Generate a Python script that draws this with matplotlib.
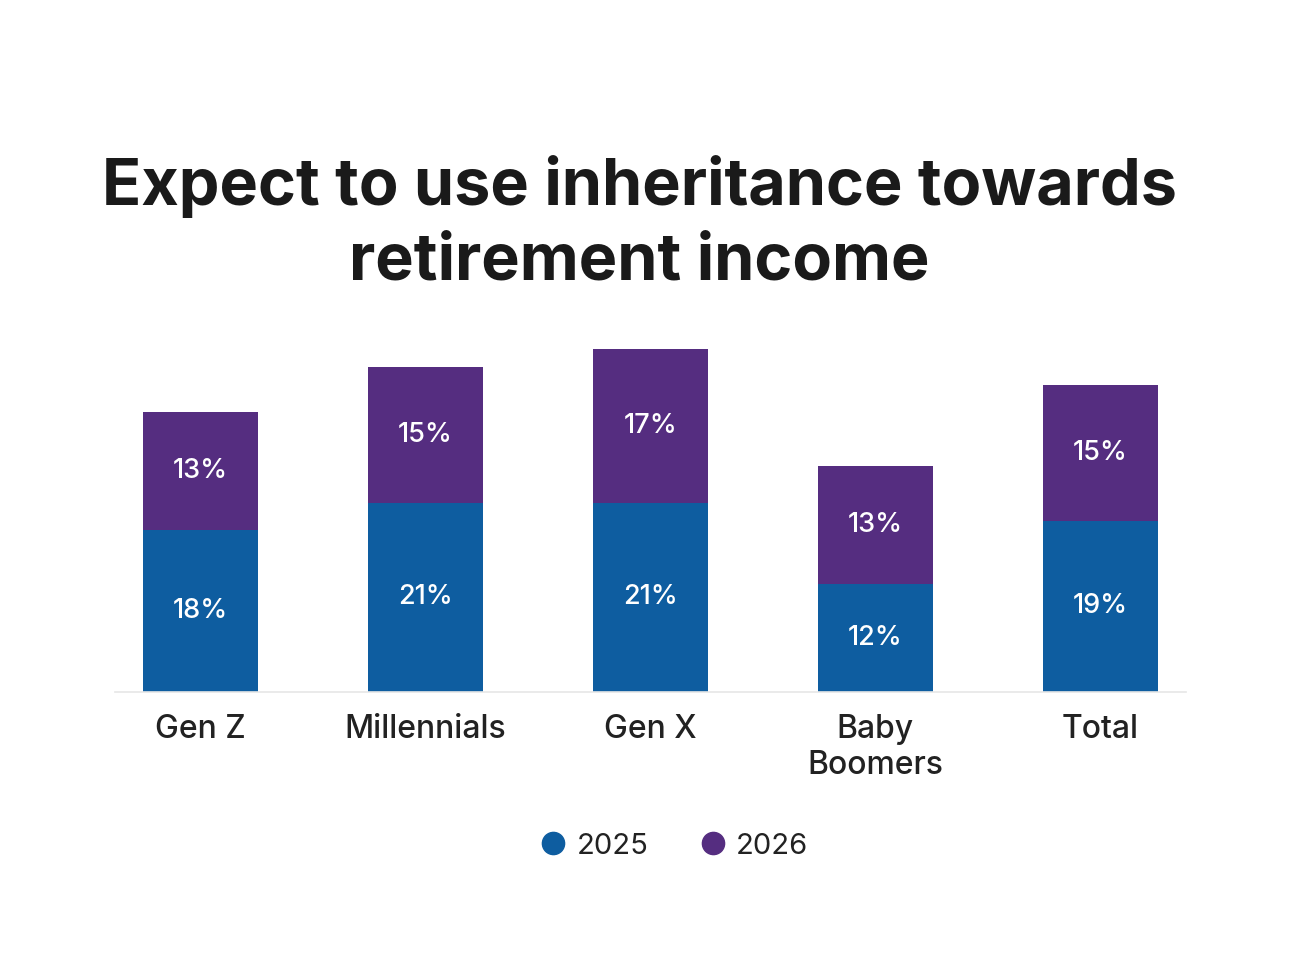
import matplotlib.pyplot as plt
from matplotlib.lines import Line2D

categories = ['Gen Z', 'Millennials', 'Gen X', 'Baby\nBoomers', 'Total']
vals_2025 = [18, 21, 21, 12, 19]
vals_2026 = [13, 15, 17, 13, 15]
series_names = ['2025', '2026']

blue = '#0e5da0'
purple = '#552d80'
dark = '#222222'

plt.rcParams['font.family'] = ['Inter', 'DejaVu Sans']

fig = plt.figure(figsize=(13, 9.76), dpi=100)
ax = fig.add_axes([115 / 1300, 284 / 976, 1071 / 1300, 360 / 976])

x = list(range(len(categories)))
w = 0.511
b1 = ax.bar(x, vals_2025, width=w, color=blue)
b2 = ax.bar(x, vals_2026, width=w, bottom=vals_2025, color=purple)

for bars, vals, base in [(b1, vals_2025, [0] * 5), (b2, vals_2026, vals_2025)]:
    for xi, v, b0 in zip(x, vals, base):
        ax.text(xi, b0 + v / 2, f'{v}%', ha='center', va='center',
                color='white', fontsize=19.5, fontweight='medium')

ax.set_xlim(-0.378, 4.38)
ax.set_ylim(0, 39.9)
ax.set_yticks([])
ax.set_xticks(x)
ax.set_xticklabels(categories, fontsize=23, color=dark, linespacing=1.2,
                   fontweight='medium')
ax.tick_params(axis='x', length=0, pad=16)
for s in ['top', 'left', 'right']:
    ax.spines[s].set_visible(False)
ax.spines['bottom'].set_color('#e6e6e6')
ax.spines['bottom'].set_linewidth(1.2)

fig.text(0.492, 1 - 224 / 976, 'Expect to use inheritance towards\nretirement income',
         ha='center', va='center', fontsize=46.6, fontweight='bold', color='#1a1a1a',
         linespacing=1.3)

handles = [Line2D([], [], marker='o', linestyle='none', markersize=16, color=c)
           for c in [blue, purple]]
fig.legend(handles, series_names, loc='center', bbox_to_anchor=(0.518, 1 - 846 / 976),
           ncol=2, frameon=False, fontsize=21, handlelength=1.0, handletextpad=0.3,
           columnspacing=1.7, labelcolor=dark)

fig.savefig('out.png', dpi=100, facecolor='white')
